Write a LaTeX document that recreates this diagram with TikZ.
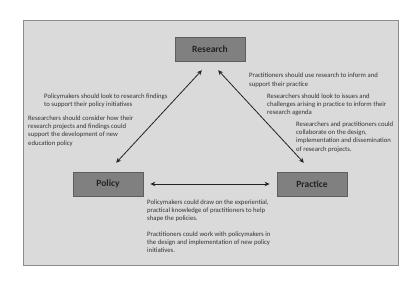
\documentclass[tikz,border=0pt]{standalone}
\usepackage{fontspec}
\setmainfont{Carlito}
\usepackage{xcolor}
\usepackage{tikz}
\usetikzlibrary{arrows.meta}
\definecolor{panelgray}{HTML}{DADADA}
\definecolor{paneledge}{HTML}{8C8C8C}
\definecolor{boxgray}{HTML}{808080}
\definecolor{boxedge}{HTML}{5E5E5E}
\definecolor{ink}{HTML}{222222}
\definecolor{notegray}{HTML}{333333}
\tikzset{
    panel/.style={draw=paneledge, fill=panelgray, line width=0.8pt},
    blk/.style={draw=boxedge, fill=boxgray, line width=0.8pt, minimum width=70pt, minimum height=24pt,
                inner sep=0pt, font=\fontsize{9.5}{11}\selectfont\bfseries, text=ink},
    arr/.style={{Stealth[length=5pt,width=4.5pt]}-{Stealth[length=5pt,width=4.5pt]}, line width=0.8pt, ink},
    note/.style={anchor=north west, inner sep=0pt, align=left, text=notegray,
                 font=\fontsize{6.7}{8.3}\selectfont}
}
\begin{document}
\begin{tikzpicture}[x=1pt, y=-1pt]
        \useasboundingbox (0,0) rectangle (400,300);
        \draw[panel] (23,20) rectangle (398,265);
        \node[blk] (res) at (210,49) {Research};
        \node[blk] (pol) at (108,184) {Policy};
        \node[blk] (prac) at (312,184) {Practice};
        \draw[arr, shorten <=12pt, shorten >=12pt] (res.south) -- (pol.north);
        \draw[arr, shorten <=12pt, shorten >=12pt] (res.south) -- (prac.north);
        \draw[arr, shorten <=7pt, shorten >=7pt] (pol.east) -- (prac.west);
        \node[note] (polres) at (44,93.5) {Policymakers should look to research findings\\to support their policy initiatives};
        \node[note] (respol) at (28,115.5) {Researchers should consider how their\\research projects and findings could\\support the development of new\\education policy};
        \node[note] (pracres) at (249,73) {Practitioners should use research to inform and\\support their practice};
        \node[note] (resprac) at (267,93.5) {Researchers should look to issues and\\challenges arising in practice to inform their\\research agenda};
        \node[note] (collab) at (296,121.5) {Researchers and practitioners could\\collaborate on the design,\\implementation and dissemination\\of research projects.};
        \node[note] (polprac) at (147,199.5) {Policymakers could draw on the experiential,\\practical knowledge of practitioners to help\\shape the policies.};
        \node[note] (pracpol) at (147,231.5) {Practitioners could work with policymakers in\\the design and implementation of new policy\\initiatives.};
    \end{tikzpicture}
\end{document}
